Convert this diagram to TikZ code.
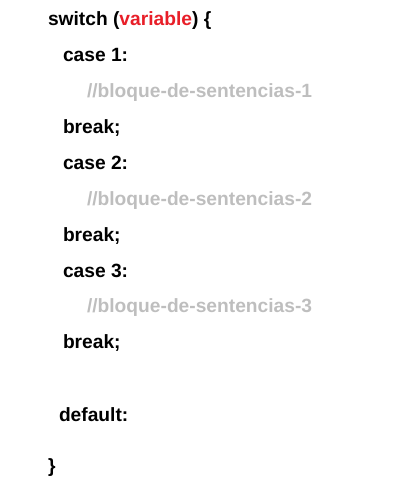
\documentclass[tikz,border=0pt]{standalone}
\usepackage{fontspec}
\setmainfont{Liberation Sans}
\definecolor{kwred}{RGB}{232,30,40}
\definecolor{cmtgray}{RGB}{190,190,190}
\tikzset{
  codeline/.style={anchor=base west, inner sep=0pt, outer sep=0pt,
    font=\fontsize{19.2bp}{23bp}\selectfont\bfseries, text=black},
  comment/.style={codeline, text=cmtgray}
}
\begin{document}
\begin{tikzpicture}[x=1bp,y=-1bp]
\useasboundingbox (0,0) rectangle (402,498);
\node[codeline] (sw) at (48,25.7) {switch (\textcolor{kwred}{variable}) \{};
\node[codeline] (c1) at (63,61.6) {case 1:};
\node[comment] (b1) at (87,97.5) {//bloque-de-sentencias-1};
\node[codeline] (k1) at (63,133.4) {break;};
\node[codeline] (c2) at (63,169.5) {case 2:};
\node[comment] (b2) at (87,205.2) {//bloque-de-sentencias-2};
\node[codeline] (k2) at (63,241.3) {break;};
\node[codeline] (c3) at (63,277) {case 3:};
\node[comment] (b3) at (87,312.9) {//bloque-de-sentencias-3};
\node[codeline] (k3) at (63,348.8) {break;};
\node[codeline] (df) at (59,421.7) {default:};
\node[codeline] (cl) at (48,472.5) {\}};
\end{tikzpicture}
\end{document}
